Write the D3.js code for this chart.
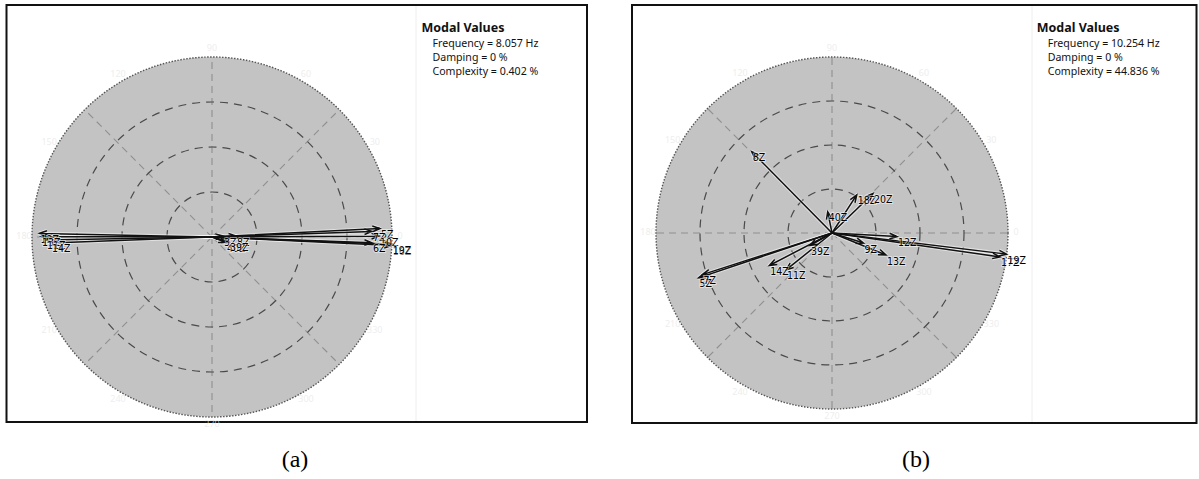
<!DOCTYPE html>
<html><head><meta charset="utf-8">
<script src="https://cdn.jsdelivr.net/npm/d3@7"></script>
<style>
html,body{margin:0;padding:0;background:#fff;}
svg{display:block;}
</style></head>
<body>
<svg id="chart" width="1199" height="479"></svg>
<script>
// Mode (a): DOF labels, relative magnitude, phase (deg, counter-clockwise from +x)
const dofsA  = ["12Z","13Z","11Z","14Z","5Z","7Z","10Z","6Z","16Z","19Z","3Z","8Z","40Z","39Z"];
const magA   = [0.959,0.950,0.922,0.895,0.934,0.889,0.928,0.889,1.000,1.000,0.061,0.134,0.084,0.098];
const phaseA = [178.8,179.8,181.0,182.1,2.9,2.0,0.3,-2.1,-2.7,-2.3,5.2,2.4,-21.4,-16.4];

// Mode (b)
const dofsB  = ["8Z","40Z","18Z","20Z","12Z","17Z","19Z","9Z","13Z","39Z","14Z","11Z","5Z","7Z"];
const magB   = [0.649,0.123,0.258,0.323,0.370,0.964,0.999,0.188,0.331,0.144,0.401,0.335,0.800,0.773];
const phaseB = [134.6,101.4,57.0,43.9,-3.1,-8.1,-6.9,-17.6,-22.2,209.6,207.4,218.8,198.6,197.8];

// Modal values legend
const legendTitle  = "Modal Values";
const frequencies  = ["8.057", "10.254"];
const dampings     = ["0", "0"];
const complexities = ["0.402", "44.836"];
const captions     = ["(a)", "(b)"];

// Polar grid
const ringLevels  = [0.25, 0.5, 0.75];
const spokeAngles = [0, 45, 90, 135, 180, 225, 270, 315];
const angleTicks  = [0, 30, 60, 90, 120, 150, 180, 210, 240, 270, 300, 330];

const svg = d3.select("#chart");

const panels = [
  {dofs: dofsA, mag: magA, phase: phaseA,
   box: {x: 6.5, y: 5, w: 580.5, h: 417}, cx: 212, cy: 237, R: 180,
   sepX: 416, legendX: 421.5, textX: 432.5, captionX: 295},
  {dofs: dofsB, mag: magB, phase: phaseB,
   box: {x: 632, y: 5, w: 564.5, h: 418}, cx: 832, cy: 233, R: 176,
   sepX: 1032, legendX: 1036.7, textX: 1047.7, captionX: 916}
];

const toRad = d => (90 - d) * Math.PI / 180;   // math angle -> d3.pointRadial angle

panels.forEach((p, k) => {
  const g = svg.append("g");

  // frame
  g.append("rect")
    .attr("x", p.box.x).attr("y", p.box.y)
    .attr("width", p.box.w).attr("height", p.box.h)
    .attr("fill", "#fff").attr("stroke", "#111").attr("stroke-width", 2);

  // plot / legend separator
  g.append("line")
    .attr("x1", p.sepX).attr("x2", p.sepX)
    .attr("y1", p.box.y + 1).attr("y2", p.box.y + p.box.h - 1)
    .attr("stroke", "#eeeeee").attr("stroke-width", 1);

  const r = d3.scaleLinear().domain([0, 1]).range([0, p.R]);
  const plot = g.append("g").attr("transform", `translate(${p.cx},${p.cy})`);

  // disc
  plot.append("circle").attr("r", r(1)).attr("fill", "#c3c3c3");

  // faint angle labels around the rim
  plot.selectAll("text.ang").data(angleTicks).join("text")
    .attr("class", "ang")
    .attr("x", d => d3.pointRadial(toRad(d), p.R + 8)[0])
    .attr("y", d => d3.pointRadial(toRad(d), p.R + 8)[1])
    .attr("text-anchor", "middle").attr("dominant-baseline", "middle")
    .attr("font-family", "Noto Sans, sans-serif").attr("font-size", 9)
    .attr("fill", "#e6e6e6").attr("fill-opacity", 0.7)
    .text(d => d);

  // spokes
  plot.selectAll("line.spoke").data(spokeAngles).join("line")
    .attr("class", "spoke")
    .attr("x1", 0).attr("y1", 0)
    .attr("x2", d => d3.pointRadial(toRad(d), r(1))[0])
    .attr("y2", d => d3.pointRadial(toRad(d), r(1))[1])
    .attr("stroke", "#8f8f8f").attr("stroke-width", 1.1)
    .attr("stroke-dasharray", "7,5");

  // rings
  plot.selectAll("circle.ring").data(ringLevels).join("circle")
    .attr("class", "ring")
    .attr("r", d => r(d))
    .attr("fill", "none").attr("stroke", "#4a4a4a").attr("stroke-width", 1.2)
    .attr("stroke-dasharray", "8,6");

  // outer dotted boundary
  plot.append("circle").attr("r", r(1))
    .attr("fill", "none").attr("stroke", "#555").attr("stroke-width", 1.4)
    .attr("stroke-dasharray", "1.5,1.5");

  // vectors
  const data = p.dofs.map((name, i) => {
    const a = toRad(p.phase[i]);
    const [x, y] = d3.pointRadial(a, r(p.mag[i]));
    return {name, x, y};
  });

  const headPath = d => {
    const ang = Math.atan2(d.y, d.x);
    const L = 8, w = 0.36;
    const x1 = d.x - L * Math.cos(ang - w), y1 = d.y - L * Math.sin(ang - w);
    const x2 = d.x - L * Math.cos(ang + w), y2 = d.y - L * Math.sin(ang + w);
    return `M0,0L${d.x},${d.y}M${x1},${y1}L${d.x},${d.y}L${x2},${y2}`;
  };

  // light halo under the vectors
  plot.selectAll("path.halo").data(data).join("path")
    .attr("class", "halo")
    .attr("d", headPath)
    .attr("fill", "none").attr("stroke", "#fff").attr("stroke-opacity", 0.5)
    .attr("stroke-width", 3.6).attr("stroke-linejoin", "round");

  plot.selectAll("path.vec").data(data).join("path")
    .attr("class", "vec")
    .attr("d", headPath)
    .attr("fill", "none").attr("stroke", "#111")
    .attr("stroke-width", 1.5).attr("stroke-linejoin", "miter");

  plot.selectAll("text.dof").data(data).join("text")
    .attr("class", "dof")
    .attr("x", d => d.x + 1)
    .attr("y", d => d.y + 9.5)
    .attr("font-family", "'Liberation Sans Narrow', 'DejaVu Sans Condensed', sans-serif")
    .attr("font-size", 10.5)
    .attr("fill", "#000")
    .attr("stroke", "#fff").attr("stroke-opacity", 0.55).attr("stroke-width", 1.8)
    .attr("paint-order", "stroke")
    .text(d => d.name);

  // legend
  g.append("text")
    .attr("x", p.legendX).attr("y", 31.5)
    .attr("font-family", "'Noto Sans', sans-serif").attr("font-weight", "bold")
    .attr("font-size", 12.5).attr("fill", "#111")
    .text(legendTitle);

  const lines = [
    `Frequency = ${frequencies[k]} Hz`,
    `Damping = ${dampings[k]} %`,
    `Complexity = ${complexities[k]} %`
  ];
  g.selectAll("text.val").data(lines).join("text")
    .attr("class", "val")
    .attr("x", p.textX).attr("y", (d, i) => 47.3 + i * 14)
    .attr("font-family", "'Noto Sans', sans-serif")
    .attr("font-size", 10.6).attr("fill", "#111")
    .text(d => d);

  // caption
  svg.append("text")
    .attr("x", p.captionX).attr("y", 467)
    .attr("text-anchor", "middle")
    .attr("font-family", "'Liberation Serif', 'Times New Roman', serif")
    .attr("font-size", 24).attr("fill", "#000")
    .text(captions[k]);
});
</script>
</body></html>
